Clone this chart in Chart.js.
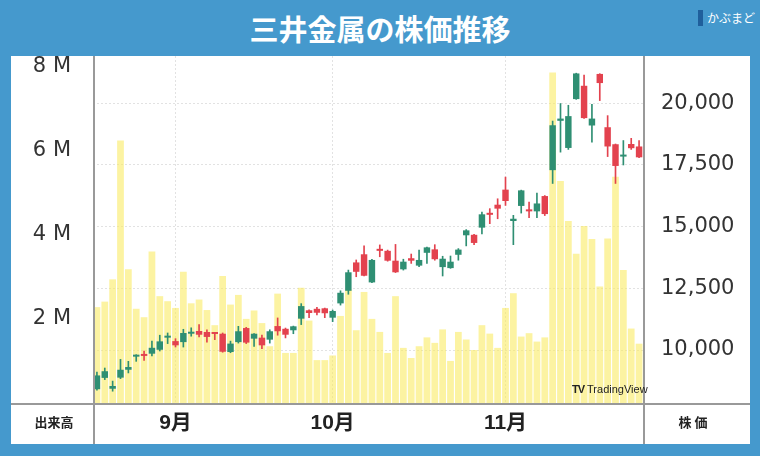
<!DOCTYPE html>
<html lang="ja">
<head>
<meta charset="utf-8">
<script src="https://cdn.jsdelivr.net/npm/chart.js@4.4.1/dist/chart.umd.min.js"></script>
<style>
  html, body { margin: 0; padding: 0; }
  body { width: 760px; height: 456px; background: #4599cd; position: relative; overflow: hidden;
         font-family: "Noto Sans CJK JP", "Noto Sans", sans-serif; }
  #panel { position: absolute; left: 11px; top: 56px; width: 739px; height: 388px; background: #fff; }
  #titulo { position: absolute; left: 0; top: 8px; width: 760px; text-align: center; color: #fff;
            font-weight: bold; font-size: 29px; line-height: 40px; }
  #logo { position: absolute; left: 698px; top: 9px; color: #fff; font-size: 12px; line-height: 18px; }
  #logo span { display: inline-block; width: 5px; height: 16px; background: #1f5f9c; vertical-align: -3px; margin-right: 4px; }
  canvas { position: absolute; left: 0; top: 0; }
  .linea { position: absolute; background: #999; }
  .rotulo { position: absolute; font-weight: bold; font-size: 13px; color: #222; line-height: 18px; text-align: center; }
  #tv { position: absolute; left: 572px; top: 381px; font-size: 11px; color: #222; line-height: 16px;
        font-family: "Liberation Sans", sans-serif; }
  #tv b { font-weight: 900; letter-spacing: -1px; margin-right: 3px; }
</style>
</head>
<body>
<div id="panel"></div>
<div id="titulo">三井金属の株価推移</div>
<div id="logo"><span></span>かぶまど</div>
<canvas id="myChart" width="760" height="456"></canvas>
<div class="linea" style="left:93px;top:56px;width:2px;height:388px"></div>
<div class="linea" style="left:643px;top:56px;width:2px;height:388px"></div>
<div class="linea" style="left:11px;top:403px;width:739px;height:2px"></div>
<div class="rotulo" style="left:24px;top:413px;width:60px">出来高</div>
<div class="rotulo" style="left:663px;top:413px;width:60px">株 価</div>
<div id="tv"><b>TV</b>TradingView</div>
<script>
// 日付 (2025年8月18日〜11月28日の営業日)
const fechas = [
  '8/18','8/19','8/20','8/21','8/22','8/25','8/26','8/27','8/28','8/29',
  '9/1','9/2','9/3','9/4','9/5','9/8','9/9','9/10','9/11','9/12',
  '9/16','9/17','9/18','9/19','9/22','9/24','9/25','9/26','9/29','9/30',
  '10/1','10/2','10/3','10/6','10/7','10/8','10/9','10/10','10/14','10/15',
  '10/16','10/17','10/20','10/21','10/22','10/23','10/24','10/27','10/28','10/29',
  '10/30','10/31','11/4','11/5','11/6','11/7','11/10','11/11','11/12','11/13',
  '11/14','11/17','11/18','11/19','11/20','11/21','11/25','11/26','11/27','11/28'
];

const apertura = [
  8410, 8870, 8430, 8880, 9200, 9730, 9810, 9850, 10010, 10500,
  10360, 10320, 10660, 10770, 10730, 10690, 10660, 9920, 10320, 10890,
  10460, 10500, 10420, 10970, 10860, 10800, 11270, 11610, 11670, 11690,
  11310, 11890, 12400, 13550, 13880, 12740, 14090, 14020, 13620, 13270,
  13720, 13420, 13940, 14080, 13360, 13320, 13860, 14650, 14670, 14960,
  15560, 15890, 16500, 15230, 15840, 15690, 15620, 16240, 17290, 19290,
  18190, 20170, 20710, 19100, 21190, 19030, 18340, 17840, 18350, 18250
];
const maximo = [
  9110, 9270, 8740, 9620, 9540, 9810, 9960, 10360, 10600, 10690,
  10460, 10840, 10900, 11030, 10820, 10700, 10690, 10360, 10960, 10920,
  10670, 10600, 10820, 11300, 10890, 10970, 11880, 11630, 11730, 11700,
  11620, 12400, 13240, 13650, 14220, 13680, 14260, 14050, 14280, 13680,
  13890, 14050, 14170, 14270, 13800, 13810, 14110, 14880, 14690, 15590,
  15730, 16130, 17010, 15460, 16480, 16000, 16360, 16260, 19280, 19990,
  19920, 21220, 21140, 19960, 21200, 19500, 18350, 18490, 18580, 18490
];
const minimo = [
  8370, 8800, 8330, 8840, 9070, 9540, 9580, 9760, 9960, 10260,
  10120, 10120, 10560, 10530, 10320, 10420, 9910, 9890, 10280, 10260,
  10150, 10050, 10280, 10600, 10490, 10660, 11030, 11310, 11420, 11310,
  11150, 11820, 12260, 12970, 13000, 12730, 13780, 13600, 13140, 13240,
  13510, 13380, 13510, 13640, 13000, 13310, 13640, 14220, 14270, 14710,
  15120, 15320, 15860, 14270, 15550, 15360, 15360, 15450, 16750, 18020,
  18130, 20160, 19390, 18420, 20110, 17840, 16750, 17500, 18130, 17800
];
const cierre = [
  8970, 9140, 8540, 9200, 9310, 9810, 9760, 10090, 10350, 10560,
  10190, 10690, 10720, 10620, 10530, 10650, 9930, 10260, 10760, 10300,
  10660, 10190, 10760, 10760, 10620, 10960, 11780, 11500, 11510, 11490,
  11580, 12320, 13150, 13170, 13010, 13650, 14020, 13620, 13150, 13580,
  13620, 13650, 14160, 13680, 13700, 13580, 14070, 14850, 14340, 15500,
  15480, 15730, 16040, 15320, 16470, 15620, 15940, 15510, 19110, 19380,
  19480, 21210, 19400, 19380, 20820, 18250, 17460, 17900, 18180, 17810
];
// 出来高 (百万株)
const volumen = [
  2.28, 2.41, 2.94, 6.24, 3.18, 2.24, 2.04, 3.60, 2.54, 2.42,
  2.26, 3.12, 2.37, 2.46, 2.21, 1.85, 3.02, 2.34, 2.57, 2.00,
  2.20, 1.90, 1.35, 2.60, 1.19, 1.19, 2.74, 1.96, 1.02, 1.02,
  1.13, 2.07, 2.70, 1.73, 2.64, 2.00, 1.69, 1.19, 2.54, 1.31,
  1.07, 1.35, 1.56, 1.43, 1.75, 1.00, 1.69, 1.51, 1.26, 1.85,
  1.65, 1.31, 2.26, 2.61, 1.58, 1.66, 1.46, 1.56, 7.86, 5.28,
  4.33, 3.55, 4.21, 3.90, 2.77, 3.91, 5.38, 3.16, 1.77, 1.41
];

const ticksPrecio = [10000, 12500, 15000, 17500, 20000];
const ticksVolumen = [2, 4, 6, 8];

const verde = '#2f8f73';
const rojo = '#e3424e';

const colores = apertura.map((o, i) => cierre[i] >= o ? verde : rojo);
const cuerpos = apertura.map((o, i) => [o, cierre[i]]);
const mechas = minimo.map((l, i) => [l, maximo[i]]);

function mesDe(i) { return fechas[i].split('/')[0]; }
function esInicioMes(i) { return i > 0 && mesDe(i) !== mesDe(i - 1); }

const ctx = document.getElementById('myChart').getContext('2d');

new Chart(ctx, {
  type: 'bar',
  data: {
    labels: fechas,
    datasets: [
      {
        label: '出来高',
        data: volumen,
        yAxisID: 'vol',
        backgroundColor: 'rgba(250, 234, 95, 0.58)',
        barPercentage: 0.86,
        categoryPercentage: 1,
        grouped: false,
        order: 3
      },
      {
        label: 'ヒゲ',
        data: mechas,
        yAxisID: 'precio',
        backgroundColor: colores,
        barThickness: 1,
        grouped: false,
        order: 2
      },
      {
        label: '株価',
        data: cuerpos,
        yAxisID: 'precio',
        backgroundColor: colores,
        barPercentage: 0.82,
        categoryPercentage: 1,
        minBarLength: 2,
        grouped: false,
        order: 1
      }
    ]
  },
  options: {
    responsive: false,
    animation: false,
    devicePixelRatio: 1,
    layout: { padding: { left: 11, right: 10, top: 56, bottom: 12 } },
    plugins: { legend: { display: false }, tooltip: { enabled: false } },
    scales: {
      x: {
        type: 'category',
        offset: true,
        afterFit: s => { s.height = 41; },
        grid: {
          offset: false,
          drawTicks: false,
          color: c => esInicioMes(c.index) ? '#e2e2e2' : 'rgba(0,0,0,0)'
        },
        border: { display: false, dash: [2, 2] },
        ticks: {
          autoSkip: false,
          maxRotation: 0,
          padding: 8,
          color: '#222',
          font: { family: '"Liberation Sans", "Noto Sans CJK JP"', size: 21, weight: 'bold' },
          callback: (v, i) => esInicioMes(i) ? mesDe(i) + '月' : ''
        }
      },
      vol: {
        type: 'linear',
        position: 'left',
        min: 0,
        max: 8.25,
        afterFit: s => { s.width = 82; },
        afterBuildTicks: s => { s.ticks = ticksVolumen.map(v => ({ value: v })); },
        grid: { display: false },
        border: { display: false },
        ticks: {
          padding: 14,
          color: '#333',
          font: { family: '"DejaVu Sans"', size: 21 },
          callback: v => v + ' M'
        }
      },
      precio: {
        type: 'linear',
        position: 'right',
        min: 7852,
        max: 21917,
        afterFit: s => { s.width = 107; },
        afterBuildTicks: s => { s.ticks = ticksPrecio.map(v => ({ value: v })); },
        grid: { color: '#e2e2e2', drawTicks: false },
        border: { display: false, dash: [2, 2] },
        ticks: {
          padding: 18,
          color: '#333',
          font: { family: '"DejaVu Sans"', size: 21 },
          callback: v => v.toLocaleString('en-US')
        }
      }
    }
  }
});
</script>
</body>
</html>
